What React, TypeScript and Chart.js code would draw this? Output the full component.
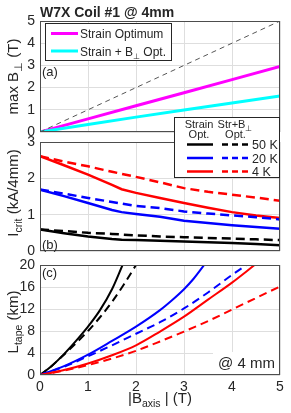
import React, { useEffect, useRef } from "react";
import { Chart, registerables } from "chart.js";
Chart.register(...registerables);

const W = 291;
const H = 413;
const FONT = "'Liberation Sans', Arial, Helvetica, sans-serif";
const TXT = "#262626";
const GRID = "#dedede";
const FRAME = "#4d4d4d";

// ---------- Panel (a): max B_perp (T) ----------
const xA = [0, 1, 2, 3, 4, 5];
const refLineA = [0, 1, 2, 3, 4, 5];
const strainOptA = [0, 0.59, 1.18, 1.77, 2.36, 2.95];
const strainBOptA = [0, 0.34, 0.67, 0.99, 1.31, 1.62];
const yTicksA = { max: 5, step: 1 };

// ---------- Panel (b): I_crit (kA/4mm) ----------
const xBk = [0, 0.5, 1, 1.5, 1.7, 2, 2.5, 3, 3.5, 4, 4.5, 5];
const xBh = [0, 0.5, 1, 1.5, 2, 2.5, 3, 3.5, 4, 4.5, 5];
const ic50Strain = [0.59, 0.49, 0.4, 0.33, 0.31, 0.3, 0.28, 0.26, 0.24, 0.22, 0.19, 0.16];
const ic50StrB = [0.59, 0.55, 0.5, 0.47, 0.43, 0.4, 0.38, 0.36, 0.34, 0.32, 0.3];
const ic20Strain = [1.69, 1.51, 1.32, 1.13, 1.07, 1.02, 0.94, 0.83, 0.77, 0.71, 0.66, 0.61];
const ic20StrB = [1.69, 1.58, 1.46, 1.35, 1.24, 1.18, 1.09, 1.03, 0.98, 0.93, 0.87];
const ic4Strain = [2.61, 2.36, 2.1, 1.82, 1.7, 1.6, 1.46, 1.32, 1.19, 1.07, 0.98, 0.91];
const ic4StrB = [2.61, 2.46, 2.33, 2.18, 2.04, 1.89, 1.73, 1.63, 1.55, 1.47, 1.38];
const yTicksB = { max: 3, step: 1 };

// ---------- Panel (c): L_tape (km) ----------
const xC50s = [0, 0.25, 0.5, 0.75, 1, 1.25, 1.5, 1.72];
const len50Strain = [0, 1.7, 3.8, 6.2, 8.8, 11.8, 15.6, 20];
const xC50d = [0, 0.25, 0.5, 0.75, 1, 1.25, 1.5, 1.75, 2.0];
const len50StrB = [0, 1.7, 3.7, 5.8, 8.0, 10.5, 13.3, 16.5, 20];
const xC20s = [0, 0.5, 1, 1.5, 2, 2.5, 2.75, 3.0, 3.2, 3.42];
const len20Strain = [0, 1.6, 3.7, 6.2, 8.8, 11.8, 13.6, 15.6, 17.5, 20];
const xC20d = [0, 0.5, 1, 1.5, 2, 2.5, 3, 3.5, 4, 4.3];
const len20StrB = [0, 1.5, 3.4, 5.4, 7.5, 9.6, 12.1, 15.0, 18.2, 20];
const xC4s = [0, 0.5, 1, 1.5, 2, 2.5, 3, 3.5, 4, 4.47];
const len4Strain = [0, 0.9, 2.1, 3.6, 5.4, 7.9, 10.6, 13.7, 16.8, 20];
const xC4d = [0, 0.5, 1, 1.5, 2, 2.5, 3, 3.5, 4, 4.5, 5];
const len4StrB = [0, 0.8, 1.8, 3.0, 4.4, 6.1, 7.9, 9.8, 11.9, 14.0, 16.1];
const yTicksC = { max: 20, step: 4 };

const xRange = { min: 0, max: 5, step: 1 };

type Part = { t: string; sub?: boolean };

function fnt(size: number, bold = false) {
  return `${bold ? "bold " : ""}${size}px ${FONT}`;
}

function richWidth(ctx: CanvasRenderingContext2D, parts: Part[], size: number, bold = false) {
  let w = 0;
  for (const p of parts) {
    ctx.font = fnt(p.sub ? size * 0.7 : size, bold);
    w += ctx.measureText(p.t).width;
  }
  return w;
}

function drawRich(
  ctx: CanvasRenderingContext2D,
  parts: Part[],
  x: number,
  y: number,
  size: number,
  align: "left" | "center" = "left",
  bold = false
) {
  const total = richWidth(ctx, parts, size, bold);
  let cx = align === "center" ? x - total / 2 : x;
  ctx.textAlign = "left";
  ctx.textBaseline = "alphabetic";
  ctx.fillStyle = TXT;
  for (const p of parts) {
    ctx.font = fnt(p.sub ? size * 0.7 : size, bold);
    ctx.fillText(p.t, cx, p.sub ? y + size * 0.28 : y);
    cx += ctx.measureText(p.t).width;
  }
}

function drawYTitle(ctx: CanvasRenderingContext2D, parts: Part[], x: number, cy: number, size: number) {
  ctx.save();
  ctx.translate(x, cy);
  ctx.rotate(-Math.PI / 2);
  drawRich(ctx, parts, 0, 0, size, "center");
  ctx.restore();
}

function line(
  ctx: CanvasRenderingContext2D,
  x1: number,
  x2: number,
  y: number,
  color: string,
  lw: number,
  dash: number[] = []
) {
  ctx.save();
  ctx.strokeStyle = color;
  ctx.lineWidth = lw;
  ctx.setLineDash(dash);
  ctx.beginPath();
  ctx.moveTo(x1, y);
  ctx.lineTo(x2, y);
  ctx.stroke();
  ctx.restore();
}

function ds(xs: number[], ys: number[], color: string, width: number, dash: number[] = [], smooth = false) {
  return {
    data: xs.map((x, i) => ({ x, y: ys[i] })),
    borderColor: color,
    backgroundColor: color,
    borderWidth: width,
    borderDash: dash,
    pointRadius: 0,
    fill: false,
    tension: 0,
    cubicInterpolationMode: smooth ? "monotone" : "default",
  };
}

function makeConfig(p: {
  top: number;
  bottom: number;
  yMax: number;
  yStep: number;
  showX: boolean;
  datasets: any[];
  draw: (ctx: CanvasRenderingContext2D, chart: any) => void;
}) {
  return {
    type: "line",
    data: { datasets: p.datasets },
    options: {
      responsive: false,
      maintainAspectRatio: false,
      devicePixelRatio: 1,
      animation: false,
      events: [],
      layout: { padding: { left: 0, right: W - 280, top: p.top, bottom: 0 } },
      plugins: { legend: { display: false }, tooltip: { enabled: false }, title: { display: false } },
      scales: {
        x: {
          type: "linear",
          min: xRange.min,
          max: xRange.max,
          ticks: {
            stepSize: xRange.step,
            display: p.showX,
            font: { family: FONT, size: 14 },
            color: TXT,
            padding: 4,
          },
          grid: { color: GRID, drawTicks: false, lineWidth: 1 },
          border: { display: false },
          afterFit: (s: any) => {
            s.height = H - p.bottom;
          },
        },
        y: {
          type: "linear",
          min: 0,
          max: p.yMax,
          ticks: {
            stepSize: p.yStep,
            font: { family: FONT, size: 14 },
            color: TXT,
            padding: 5,
          },
          grid: { color: GRID, drawTicks: false, lineWidth: 1 },
          border: { display: false },
          afterFit: (s: any) => {
            s.width = 40;
          },
        },
      },
    },
    plugins: [
      {
        id: "overlay",
        afterDraw(chart: any) {
          const ctx = chart.ctx as CanvasRenderingContext2D;
          const a = chart.chartArea;
          ctx.save();
          ctx.strokeStyle = FRAME;
          ctx.lineWidth = 1;
          ctx.strokeRect(a.left + 0.5, a.top + 0.5, a.right - a.left - 1, a.bottom - a.top - 1);
          ctx.restore();
          p.draw(ctx, chart);
        },
      },
    ],
  };
}

export default function App() {
  const refA = useRef<HTMLCanvasElement>(null);
  const refB = useRef<HTMLCanvasElement>(null);
  const refC = useRef<HTMLCanvasElement>(null);

  useEffect(() => {
    document.body.style.margin = "0";
    const charts: Chart[] = [];

    const cfgA = makeConfig({
      top: 21,
      bottom: 132,
      yMax: yTicksA.max,
      yStep: yTicksA.step,
      showX: false,
      datasets: [
        ds(xA, refLineA, "#555555", 1, [5, 4]),
        ds(xA, strainBOptA, "#00ffff", 3),
        ds(xA, strainOptA, "#ff00ff", 3),
      ],
      draw: (ctx) => {
        drawRich(ctx, [{ t: "W7X Coil #1 @ 4mm" }], 40, 17, 14, "left", true);
        drawYTitle(ctx, [{ t: "max B" }, { t: "⊥", sub: true }, { t: " (T)" }], 18, 76.5, 15);
        drawRich(ctx, [{ t: "(a)" }], 42, 76, 13);
        // legend
        ctx.save();
        ctx.fillStyle = "#ffffff";
        ctx.fillRect(45, 23, 127, 38);
        ctx.strokeStyle = TXT;
        ctx.lineWidth = 1;
        ctx.strokeRect(45.5, 23.5, 126, 37);
        ctx.restore();
        line(ctx, 51, 78, 33.5, "#ff00ff", 3);
        line(ctx, 51, 78, 51, "#00ffff", 3);
        drawRich(ctx, [{ t: "Strain Optimum" }], 80, 38, 12);
        drawRich(ctx, [{ t: "Strain + B" }, { t: "⊥", sub: true }, { t: " Opt." }], 80, 55.5, 12);
      },
    });

    const dashB = [9, 5];
    const cfgB = makeConfig({
      top: 142,
      bottom: 251,
      yMax: yTicksB.max,
      yStep: yTicksB.step,
      showX: false,
      datasets: [
        ds(xBh, ic50StrB, "#000000", 2.5, dashB),
        ds(xBk, ic50Strain, "#000000", 2.5),
        ds(xBh, ic20StrB, "#0000ff", 2.5, dashB),
        ds(xBk, ic20Strain, "#0000ff", 2.5),
        ds(xBh, ic4StrB, "#ff0000", 2.5, dashB),
        ds(xBk, ic4Strain, "#ff0000", 2.5),
      ],
      draw: (ctx) => {
        drawYTitle(ctx, [{ t: "I" }, { t: "crit", sub: true }, { t: " (kA/4mm)" }], 18, 193, 15);
        drawRich(ctx, [{ t: "(b)" }], 42, 249, 13);
        // legend
        ctx.save();
        ctx.fillStyle = "#ffffff";
        ctx.fillRect(174, 117, 106, 61);
        ctx.strokeStyle = TXT;
        ctx.lineWidth = 1;
        ctx.strokeRect(174.5, 117.5, 105, 60);
        ctx.restore();
        drawRich(ctx, [{ t: "Strain" }], 199, 127.5, 11, "center");
        drawRich(ctx, [{ t: "Opt." }], 199, 138, 11, "center");
        drawRich(ctx, [{ t: "Str+B" }, { t: "⊥", sub: true }], 235, 127.5, 11, "center");
        drawRich(ctx, [{ t: "Opt." }], 235.5, 138, 11, "center");
        const rows: [number, string, string][] = [
          [144.5, "#000000", "50 K"],
          [158, "#0000ff", "20 K"],
          [171.5, "#ff0000", "4 K"],
        ];
        for (const [y, c, label] of rows) {
          line(ctx, 187, 213, y, c, 2.5);
          line(ctx, 222, 249, y, c, 2.5, [6, 4]);
          drawRich(ctx, [{ t: label }], 252, y + 4.5, 12.5);
        }
      },
    });

    const dashC = [8, 5];
    const cfgC = makeConfig({
      top: 265,
      bottom: 375,
      yMax: yTicksC.max,
      yStep: yTicksC.step,
      showX: true,
      datasets: [
        ds(xC4d, len4StrB, "#ff0000", 2, dashC, true),
        ds(xC4s, len4Strain, "#ff0000", 2, [], true),
        ds(xC20d, len20StrB, "#0000ff", 2, dashC, true),
        ds(xC20s, len20Strain, "#0000ff", 2, [], true),
        ds(xC50d, len50StrB, "#000000", 2, dashC, true),
        ds(xC50s, len50Strain, "#000000", 2, [], true),
      ],
      draw: (ctx) => {
        drawYTitle(ctx, [{ t: "L" }, { t: "tape", sub: true }, { t: " (km)" }], 18, 322, 15);
        drawRich(ctx, [{ t: "(c)" }], 42, 277, 13);
        ctx.save();
        ctx.fillStyle = "#ffffff";
        ctx.fillRect(213, 352, 66, 22);
        ctx.restore();
        drawRich(ctx, [{ t: "@ 4 mm" }], 218, 368, 15);
        drawRich(ctx, [{ t: "|B" }, { t: "axis", sub: true }, { t: " | (T)" }], 160, 403, 15, "center");
      },
    });

    if (refA.current) charts.push(new Chart(refA.current, cfgA as any));
    if (refB.current) charts.push(new Chart(refB.current, cfgB as any));
    if (refC.current) charts.push(new Chart(refC.current, cfgC as any));

    return () => {
      charts.forEach((c) => c.destroy());
    };
  }, []);

  const cs: React.CSSProperties = { position: "absolute", left: 0, top: 0, width: W, height: H };
  return (
    <div style={{ position: "absolute", left: 0, top: 0, width: W, height: H, background: "#ffffff" }}>
      <canvas ref={refA} width={W} height={H} style={cs} />
      <canvas ref={refB} width={W} height={H} style={cs} />
      <canvas ref={refC} width={W} height={H} style={cs} />
    </div>
  );
}
